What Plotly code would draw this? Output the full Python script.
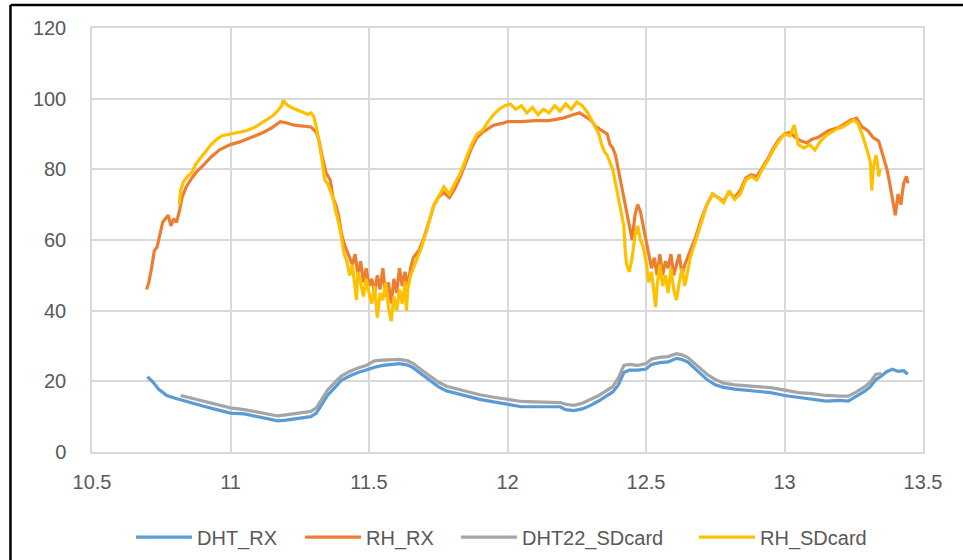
import plotly.graph_objects as go

# ---------------- data ----------------
dht_rx_x = [10.70, 10.72, 10.74, 10.77, 10.80, 10.85, 10.90, 10.95, 11.00, 11.05, 11.10, 11.15, 11.17, 11.20,
            11.25, 11.29, 11.31, 11.33, 11.35, 11.38, 11.40, 11.43, 11.46, 11.49, 11.52, 11.55, 11.58, 11.61,
            11.64, 11.66, 11.69, 11.72, 11.75, 11.78, 11.82, 11.86, 11.90, 11.95, 12.00, 12.05, 12.10, 12.15,
            12.19, 12.21, 12.24, 12.27, 12.30, 12.33, 12.36, 12.38, 12.40, 12.42, 12.44, 12.47, 12.50, 12.52,
            12.55, 12.58, 12.61, 12.63, 12.65, 12.67, 12.69, 12.72, 12.75, 12.78, 12.82, 12.86, 12.90, 12.95,
            13.00, 13.05, 13.10, 13.15, 13.20, 13.23, 13.26, 13.29, 13.31, 13.33, 13.35, 13.37, 13.39, 13.41,
            13.43, 13.445]
dht_rx_y = [21.3, 19.8, 17.8, 16.0, 15.2, 14.0, 13.0, 12.0, 11.0, 10.8, 10.0, 9.2, 8.8, 9.0,
            9.6, 10.0, 11.0, 13.5, 16.0, 18.5, 20.3, 21.5, 22.5, 23.2, 24.0, 24.5, 24.8, 25.0,
            24.6, 23.8, 22.0, 20.3, 18.5, 17.3, 16.5, 15.6, 14.9, 14.2, 13.5, 12.8, 12.8, 12.8,
            12.8, 12.0, 11.7, 12.2, 13.2, 14.5, 16.0, 17.0, 19.0, 22.5, 23.2, 23.2, 23.5, 24.8,
            25.3, 25.5, 26.5, 26.2, 25.5, 24.0, 22.5, 20.5, 19.0, 18.3, 17.8, 17.5, 17.2, 16.8,
            16.0, 15.4, 15.0, 14.4, 14.6, 14.4, 15.8, 17.2, 18.5, 20.5, 21.5, 22.8, 23.4, 22.8,
            23.0, 22.0]

rh_rx_x = [10.697, 10.705, 10.715, 10.725, 10.735, 10.745, 10.755, 10.765, 10.775, 10.785, 10.795, 10.805,
           10.815, 10.825, 10.84, 10.86, 10.88, 10.90, 10.93, 10.96, 11.00, 11.03, 11.06, 11.09, 11.12, 11.15,
           11.18, 11.20, 11.23, 11.26, 11.29, 11.31, 11.32, 11.33, 11.345, 11.36, 11.37, 11.38, 11.39, 11.40,
           11.41, 11.42, 11.43, 11.44, 11.45, 11.46, 11.47, 11.48, 11.49, 11.50, 11.51, 11.52, 11.53, 11.54,
           11.55, 11.56, 11.57, 11.58, 11.59, 11.60, 11.61, 11.62, 11.63, 11.64, 11.65, 11.66, 11.68, 11.70,
           11.72, 11.735, 11.75, 11.77, 11.79, 11.81, 11.83, 11.85, 11.87, 11.89, 11.91, 11.93, 11.95, 11.98,
           12.00, 12.05, 12.10, 12.15, 12.20, 12.24, 12.26, 12.28, 12.30, 12.32, 12.34, 12.36, 12.37, 12.38,
           12.39, 12.40, 12.41, 12.42, 12.43, 12.44, 12.45, 12.46, 12.47, 12.48, 12.49, 12.50, 12.51, 12.52,
           12.53, 12.54, 12.55, 12.56, 12.57, 12.58, 12.59, 12.60, 12.61, 12.62, 12.63, 12.64, 12.66, 12.68,
           12.70, 12.72, 12.74, 12.76, 12.78, 12.80, 12.82, 12.84, 12.86, 12.88, 12.90, 12.92, 12.94, 12.96,
           12.98, 13.00, 13.02, 13.04, 13.06, 13.08, 13.10, 13.12, 13.14, 13.16, 13.18, 13.20, 13.22, 13.24,
           13.26, 13.28, 13.30, 13.32, 13.34, 13.355, 13.37, 13.38, 13.39, 13.40, 13.405, 13.41, 13.42, 13.425,
           13.43, 13.44, 13.446]
rh_rx_y = [46, 48, 52, 57, 58, 62, 65, 66, 67, 64, 66, 65,
           68, 72, 75, 77.5, 79.5, 81, 83.5, 85.5, 87, 87.7, 88.5, 89.5, 90.5, 91.8,
           93.5, 93.2, 92.5, 92.2, 92.0, 90.5, 88, 84, 79, 77, 72, 70, 67, 62,
           59, 57, 55, 53, 56, 50, 54, 48, 52, 47, 49, 45, 50, 46,
           52, 44, 48, 42, 49, 45, 52, 47, 51, 47, 52, 55, 57, 61,
           66, 70, 72, 73.5, 72, 74.5, 78, 82, 86, 89, 90.5, 91.5, 92.5, 93,
           93.5, 93.5, 93.8, 93.8, 94.5, 95.5, 96, 95, 94, 92, 91, 90, 87, 86,
           84, 80, 76, 72, 68, 63, 60, 67, 70, 68, 64, 60, 55, 52,
           55, 50, 56, 50, 54, 52, 56, 50, 53, 56, 50, 53, 57, 61,
           66, 70, 73, 72, 71, 73.5, 72, 74, 77.5, 78.5, 78, 80.5, 83, 86,
           88.5, 90, 90.5, 89, 88, 87.5, 88.5, 89, 90, 91, 91.5, 92, 93, 94,
           94.5, 92, 91, 89, 88, 84, 80, 76, 71, 67, 70, 73, 70, 74,
           76, 78, 76]

dht22_sd_x = [10.82, 10.85, 10.90, 10.95, 11.00, 11.05, 11.10, 11.15, 11.17, 11.20, 11.25, 11.29, 11.31, 11.33,
              11.35, 11.38, 11.40, 11.43, 11.46, 11.49, 11.52, 11.55, 11.58, 11.61, 11.64, 11.66, 11.69, 11.72,
              11.75, 11.78, 11.82, 11.86, 11.90, 11.95, 12.00, 12.05, 12.10, 12.15, 12.19, 12.21, 12.24, 12.27,
              12.30, 12.33, 12.36, 12.38, 12.40, 12.42, 12.44, 12.47, 12.50, 12.52, 12.55, 12.58, 12.61, 12.63,
              12.65, 12.67, 12.69, 12.72, 12.75, 12.78, 12.82, 12.86, 12.90, 12.95, 13.00, 13.05, 13.10, 13.15,
              13.20, 13.23, 13.26, 13.29, 13.31, 13.33, 13.35]
dht22_sd_y = [16.0, 15.4, 14.4, 13.4, 12.5, 12.0, 11.3, 10.5, 10.2, 10.5, 11.0, 11.5, 12.5, 15.0,
              17.5, 20.0, 21.5, 22.8, 23.8, 24.5, 25.8, 26.0, 26.2, 26.2, 25.8, 25.0, 23.2, 21.5,
              19.8, 18.6, 17.8, 17.0, 16.2, 15.5, 15.0, 14.3, 14.2, 14.0, 14.0, 13.5, 13.2, 13.8,
              14.8, 16.0, 17.5, 18.5, 21.0, 24.5, 24.8, 24.5, 25.0, 26.3, 26.8, 27.0, 27.8, 27.5,
              26.8, 25.5, 24.0, 22.0, 20.5, 19.5, 19.0, 18.8, 18.5, 18.2, 17.5, 16.8, 16.5, 16.0,
              15.8, 15.8, 17.0, 18.5, 19.8, 22.0, 22.2]

rh_sd_x = [10.815, 10.82, 10.83, 10.845, 10.86, 10.875, 10.89, 10.90, 10.915, 10.93, 10.95, 10.97, 11.00,
           11.03, 11.06, 11.09, 11.12, 11.15, 11.17, 11.185, 11.19, 11.20, 11.22, 11.25, 11.28, 11.29, 11.30,
           11.31, 11.32, 11.33, 11.34, 11.35, 11.36, 11.37, 11.38, 11.39, 11.40, 11.41, 11.42, 11.43, 11.44,
           11.45, 11.455, 11.46, 11.47, 11.48, 11.49, 11.50, 11.51, 11.52, 11.53, 11.54, 11.55, 11.56, 11.57,
           11.58, 11.59, 11.60, 11.61, 11.62, 11.63, 11.635, 11.64, 11.65, 11.67, 11.69, 11.71, 11.73, 11.75,
           11.77, 11.79, 11.81, 11.83, 11.85, 11.87, 11.89, 11.91, 11.93, 11.95, 11.97, 11.99, 12.01, 12.03,
           12.05, 12.07, 12.09, 12.11, 12.13, 12.15, 12.17, 12.19, 12.21, 12.23, 12.25, 12.27, 12.29, 12.31,
           12.33, 12.34, 12.35, 12.36, 12.37, 12.38, 12.39, 12.40, 12.41, 12.42, 12.425, 12.43, 12.44, 12.45,
           12.46, 12.47, 12.48, 12.49, 12.50, 12.51, 12.52, 12.53, 12.535, 12.54, 12.55, 12.56, 12.57, 12.58,
           12.59, 12.60, 12.61, 12.62, 12.63, 12.64, 12.65, 12.66, 12.68, 12.70, 12.72, 12.74, 12.76, 12.78,
           12.80, 12.82, 12.84, 12.86, 12.88, 12.90, 12.92, 12.94, 12.96, 12.98, 13.00, 13.02, 13.035, 13.05,
           13.07, 13.09, 13.11, 13.13, 13.15, 13.17, 13.19, 13.21, 13.23, 13.25, 13.265, 13.28, 13.30, 13.31,
           13.315, 13.32, 13.33, 13.335, 13.34, 13.345]
rh_sd_y = [70, 74, 76.5, 78, 79, 81.5, 83, 84, 85.5, 87, 88.5, 89.5, 90,
           90.5, 91, 92, 93.5, 95, 96.5, 98, 99.5, 98.5, 97.5, 96.5, 95.5, 96, 95,
           92, 88, 83, 77, 76, 74, 72, 68, 65, 61, 56, 54, 50, 53,
           47, 43, 51, 48, 44, 49, 45, 42, 47, 38, 45, 43, 48, 41,
           37, 44, 40, 46, 42, 48, 40, 46, 50, 54, 58, 63, 69, 72,
           75, 73, 76, 79, 83, 87, 90, 91, 93.5, 95.5, 97, 98, 98.5, 97,
           98, 96, 97.5, 95.5, 97, 96, 98, 96.5, 98.5, 97, 99, 98, 96, 93,
           90, 87, 85, 84, 82, 80, 76, 72, 68, 64, 57, 53, 51, 55,
           61, 64, 60, 58, 54, 48, 51, 44, 41, 47, 53, 47, 50, 45,
           52, 46, 43, 48, 52, 47, 51, 55, 60, 65, 70, 73, 72, 70.5,
           74, 71.5, 73, 77, 78, 77, 80, 82.5, 85.5, 88, 90, 89.5, 92.5, 87,
           86, 87, 85.5, 88, 89.5, 90.5, 91.5, 92, 93, 94, 93, 90, 85, 82,
           74, 80, 84, 82, 78, 80]

series_names = ["DHT_RX", "RH_RX", "DHT22_SDcard", "RH_SDcard"]
series_colors = ["#5B9BD5", "#ED7D31", "#A5A5A5", "#FFC000"]
x_tick_vals = [10.5, 11, 11.5, 12, 12.5, 13, 13.5]
x_tick_text = ["10.5", "11", "11.5", "12", "12.5", "13", "13.5"]
y_tick_vals = [0, 20, 40, 60, 80, 100, 120]

# ---------------- figure ----------------
fig = go.Figure()
all_x = [dht_rx_x, rh_rx_x, dht22_sd_x, rh_sd_x]
all_y = [dht_rx_y, rh_rx_y, dht22_sd_y, rh_sd_y]
legend_ids = ["legend", "legend2", "legend3", "legend4"]
for name, color, xs, ys, lg in zip(series_names, series_colors, all_x, all_y, legend_ids):
    fig.add_trace(go.Scatter(x=xs, y=ys, mode="lines", name=name, legend=lg,
                             line=dict(color=color, width=3.2)))

font_family = "Liberation Sans, Arial, sans-serif"
legend_left_px = [136, 305, 461, 699]   # where each legend entry starts (Excel-like spacing)
legend_style = dict(orientation="h", xref="container", yref="container", xanchor="left",
                    y=0.041, yanchor="middle", itemwidth=56, bgcolor="rgba(0,0,0,0)",
                    font=dict(size=20, color="#595959"))
legend_layout = {}
for lg, px in zip(legend_ids, legend_left_px):
    legend_layout[lg] = dict(legend_style, x=(px - 5) / 963)

fig.update_layout(
    width=963, height=560,
    margin=dict(l=92, r=40, t=28, b=108),
    paper_bgcolor="white", plot_bgcolor="white",
    font=dict(family=font_family, size=20, color="#595959"),
    showlegend=True,
    xaxis=dict(range=[10.5, 13.5], tickvals=x_tick_vals, ticktext=x_tick_text,
               showgrid=True, gridcolor="#D9D9D9", gridwidth=1.5,
               showline=True, linecolor="#D9D9D9", linewidth=1.5, mirror=True,
               ticks="outside", ticklen=11, tickcolor="rgba(0,0,0,0)",
               zeroline=False, tickfont=dict(size=20, color="#595959")),
    yaxis=dict(range=[0, 120], tickvals=y_tick_vals,
               showgrid=True, gridcolor="#D9D9D9", gridwidth=1.5,
               showline=True, linecolor="#D9D9D9", linewidth=1.5, mirror=True,
               ticks="outside", ticklen=20, tickcolor="rgba(0,0,0,0)",
               zeroline=False, tickfont=dict(size=20, color="#595959")),
    **legend_layout,
)

# outer black frame (left and top edges visible in the reference)
fig.add_shape(type="line", xref="paper", yref="paper", x0=-0.0981, x1=-0.0981, y0=1.0542, y1=-0.35,
              line=dict(color="black", width=2.5))
fig.add_shape(type="line", xref="paper", yref="paper", x0=-0.0981, x1=1.1, y0=1.0542, y1=1.0542,
              line=dict(color="black", width=2.5))

fig.write_html("out.html", config={"displayModeBar": False},
               post_script="document.body.style.margin='0';document.body.style.overflow='hidden';")
